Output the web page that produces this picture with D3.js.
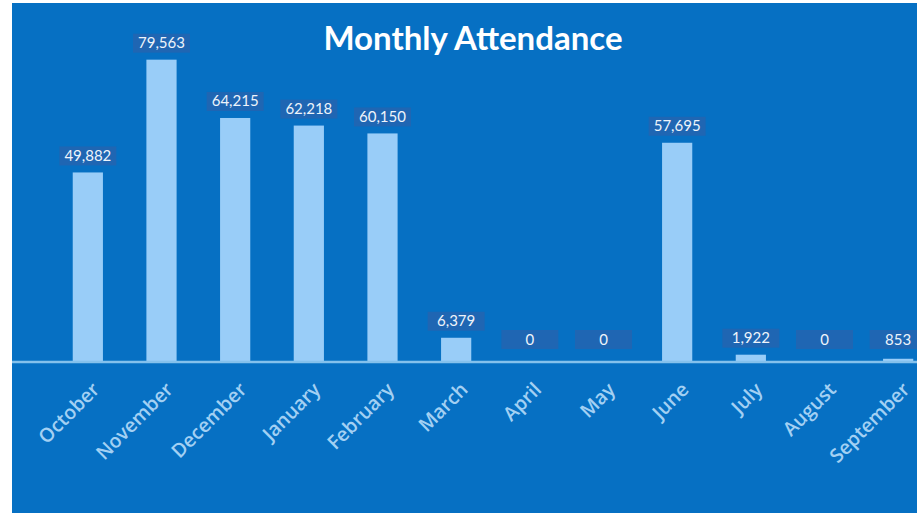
<!DOCTYPE html>
<html><head><meta charset="utf-8">
<script src="https://cdn.jsdelivr.net/npm/d3@7"></script>
<style>html,body{margin:0;padding:0;background:#fff;overflow:hidden}</style>
</head><body>
<svg id="chart" width="917" height="513"></svg>
<script>
const months = ["October","November","December","January","February","March","April","May","June","July","August","September"];
const attendance = [49882,79563,64215,62218,60150,6379,0,0,57695,1922,0,853];
const titleText = "Monthly Attendance";

const svg = d3.select("#chart");
const W = 917, H = 513;
svg.append("rect").attr("x",12).attr("y",3).attr("width",W-12).attr("height",H-3).attr("fill","#0670c3");

const x = d3.scaleBand().domain(months).range([51, 935]).paddingInner(0.59).paddingOuter(0.295);
const y = d3.scaleLinear().domain([0, 80000]).range([362, 58]);

svg.append("text").attr("x",473).attr("y",50).attr("text-anchor","middle")
  .attr("font-family","Lato, 'Open Sans', sans-serif").attr("font-weight","bold").attr("font-size",33)
  .attr("fill","#ffffff").text(titleText);

const g = svg.append("g");
g.selectAll("rect.bar").data(months).join("rect").attr("class","bar")
  .attr("x", d => x(d)).attr("width", x.bandwidth())
  .attr("y", (d,i) => y(attendance[i])).attr("height", (d,i) => y(0) - y(attendance[i]))
  .attr("fill","#99cdf8");

// axis line
const axis = d3.axisBottom(x).tickSize(0).tickPadding(0);
const ax = svg.append("g").attr("transform","translate(0,362)").call(axis);
ax.select(".domain").attr("stroke","#84c1ec").attr("stroke-width",2.5).attr("d","M12,0H917");
ax.selectAll(".tick text")
  .attr("font-family","'Open Sans', Lato, sans-serif").attr("font-size",19.5).attr("font-weight",600)
  .attr("fill","#a3d0f3").attr("text-anchor","end")
  .attr("transform","translate(8,24) rotate(-45)").attr("dy","0.35em").attr("y",0);

// value labels
const lab = svg.append("g").selectAll("g").data(months).join("g")
  .attr("transform",(d,i) => `translate(${x(d)+x.bandwidth()/2},${Math.min(y(attendance[i]), y(0)-6) - 7})`);
lab.append("rect").attr("x",-28.5).attr("y",-19).attr("width",57).attr("height",19).attr("fill","#1f66b3");
lab.append("text").attr("y",-4.5).attr("text-anchor","middle")
  .attr("font-family","Lato, 'Open Sans', sans-serif").attr("font-size",15)
  .attr("fill","#eef4fb").text((d,i) => d3.format(",")(attendance[i]));
</script>
</body></html>
